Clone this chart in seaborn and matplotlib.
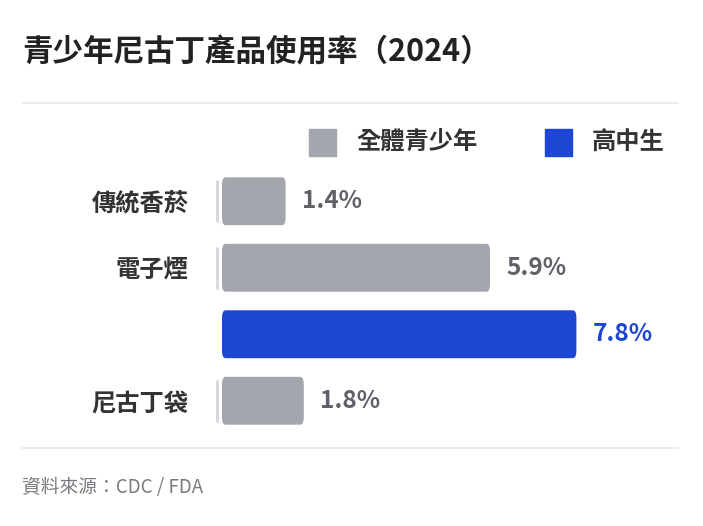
import matplotlib
matplotlib.use('Agg')
import matplotlib.pyplot as plt
import seaborn as sns
import pandas as pd
from matplotlib.patches import FancyBboxPatch, Rectangle
from matplotlib.lines import Line2D

products = ['傳統香菸', '電子煙', '電子煙 ', '尼古丁袋']
labels = ['傳統香菸', '電子煙', '', '尼古丁袋']
groups = ['全體青少年', '全體青少年', '高中生', '全體青少年']
values = [1.4, 5.9, 7.8, 1.8]
series = ['全體青少年', '高中生']
colors = {'全體青少年': '#a4a6ae', '高中生': '#1d46d3'}
text_colors = {'全體青少年': '#5f6068', '高中生': '#1d46d3'}

df = pd.DataFrame({'slot': products, 'group': groups, 'value': values})

sns.set_theme(style='white')
plt.rcParams['font.family'] = ['Noto Sans CJK TC', 'DejaVu Sans']

W, H = 703, 526
fig = plt.figure(figsize=(W / 100, H / 100), dpi=100)
ax = fig.add_axes([222 / W, 1 - 434 / H, 418 / W, 266 / H])

sns.barplot(data=df, y='slot', x='value', hue='group', order=products,
            hue_order=series, palette=colors, dodge=False, width=0.72,
            saturation=1, legend=False, ax=ax)

# rounded corners
for p in list(ax.patches):
    if p.get_width() <= 0:
        continue
    x, y, w, h = p.get_x(), p.get_y(), p.get_width(), p.get_height()
    fb = FancyBboxPatch((x, y), w, h, boxstyle='round,pad=0,rounding_size=0.08',
                        fc=p.get_facecolor(), ec='none', mutation_aspect=1.4)
    p.remove()
    ax.add_patch(fb)

for i, (v, g) in enumerate(zip(values, groups)):
    ax.text(v + 0.35, i, f'{v}%', va='center', ha='left', fontsize=17.5,
            fontweight='bold', color=text_colors[g])
    if labels[i]:
        ax.plot([-0.1, -0.1], [i - 0.3, i + 0.3], color='#d5d6da', lw=2,
                clip_on=False)

ax.set_xlim(0, 9.2)
ax.set_ylim(3.5, -0.5)
ax.set_yticks(range(len(labels)))
ax.set_yticklabels(labels, fontsize=17.5, fontweight='bold', color='#333333')
ax.tick_params(axis='y', pad=24, length=0)
ax.set_xticks([])
ax.set_xlabel('')
ax.set_ylabel('')
for s in ax.spines.values():
    s.set_visible(False)

fig.text(22 / W, 1 - 52 / H, '青少年尼古丁產品使用率（2024）', fontsize=22,
         fontweight='bold', color='#222222', va='center', ha='left')
fig.add_artist(Line2D([22 / W, 678 / W], [1 - 103 / H] * 2, color='#ececee', lw=1.5))
fig.add_artist(Line2D([22 / W, 678 / W], [1 - 448 / H] * 2, color='#ececee', lw=1.5))

# legend
for x0, name in [(309, '全體青少年'), (545, '高中生')]:
    fig.add_artist(Rectangle((x0 / W, 1 - 156 / H), 27 / W, 27 / H,
                             transform=fig.transFigure, color=colors[name]))
    fig.text((x0 + 47) / W, 1 - 142 / H, name, fontsize=17.5, fontweight='bold',
             color='#333333', va='center', ha='left')

fig.text(22 / W, 1 - 487 / H, '資料來源：CDC / FDA', fontsize=13.5,
         color='#7a7a80', va='center', ha='left')

fig.savefig('out.png', dpi=100)
